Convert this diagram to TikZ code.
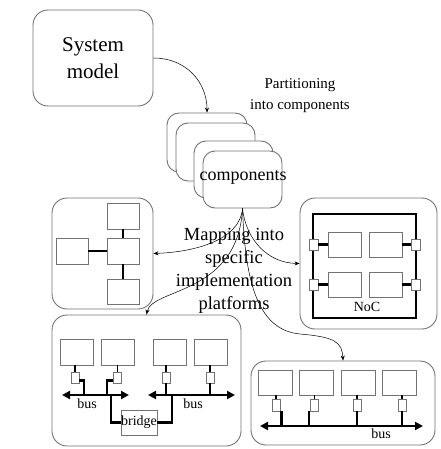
\documentclass[tikz,border=0pt]{standalone}
\usepackage{fontspec}
\setmainfont{Liberation Serif}
\usetikzlibrary{arrows.meta}

\tikzset{
  frame/.style={draw=black!55, line width=0.9pt, rounded corners=15pt, fill=white},
  part/.style={draw=black!55, line width=0.9pt, rounded corners=12pt, fill=white},
  pe/.style={draw=black!55, line width=0.8pt, fill=white, inner sep=0pt, minimum width=33pt, minimum height=26pt},
  wrapper/.style={draw=black!55, line width=0.7pt, fill=white, inner sep=0pt, minimum width=8pt, minimum height=11pt},
  wire/.style={line width=2.4pt},
  stub/.style={line width=1.4pt},
  bus/.style={line width=2.4pt, {Triangle[length=8pt,width=8pt]}-{Triangle[length=8pt,width=8pt]}},
  flow/.style={line width=0.5pt, -{Stealth[length=5pt,width=4pt]}},
  small/.style={font=\fontsize{14}{16}\selectfont, inner sep=0pt},
}

\begin{document}
\begin{tikzpicture}[x=1pt,y=-1pt]
  \useasboundingbox (0,0) rectangle (440,449);

  % system model and its components
  \node[frame, minimum width=120pt, minimum height=96pt, align=center,
        font=\fontsize{21}{27}\selectfont] (sys) at (93,58) {System\\model};
  \node[part, minimum width=80pt, minimum height=59pt] (c1) at (207,142.5) {};
  \node[part, minimum width=79pt, minimum height=58pt] (c2) at (215.5,152) {};
  \node[part, minimum width=79pt, minimum height=57pt] (c3) at (233.5,169.5) {};
  \node[part, minimum width=79pt, minimum height=57pt] (comp) at (242.5,179.5) {};
  \node[font=\fontsize{18}{20}\selectfont] (complabel) at (243,177) {components};
  \node[font=\tiny, text=black!40] (dots1) at (262,135) {...};
  \node[font=\tiny, text=black!40] (dots2) at (190,183) {...};
  \node[align=center, font=\fontsize{15}{21}\selectfont] (parting) at (300,96) {Partitioning\\into components};
  \node[align=center, font=\fontsize{18.5}{23}\selectfont] (mapping) at (234,271) {Mapping into\\specific\\implementation\\platforms};

  % hierarchical platform
  \node[frame, minimum width=101pt, minimum height=111pt] (hier) at (102.5,253.5) {};
  \node[pe, minimum width=32pt] (h1) at (123,216) {};
  \node[pe, minimum width=32pt] (h2) at (123,251) {};
  \node[pe, minimum width=32pt, minimum height=25pt] (h3) at (123,291.5) {};
  \node[pe, minimum width=32pt] (h4) at (72,251) {};
  \draw[wire] (h1) -- (h2);
  \draw[wire] (h2) -- (h3);
  \draw[wire] (h4) -- (h2);

  % network on chip
  \node[frame, minimum width=137pt, minimum height=131pt] (noc) at (368.5,263.5) {};
  \node[draw, wire, minimum width=103pt, minimum height=104pt] (ring) at (364.5,266) {};
  \node[pe, minimum height=25pt] (n1) at (344.5,244.5) {};
  \node[pe, minimum height=25pt] (n2) at (385.5,244.5) {};
  \node[pe, minimum height=25pt] (n3) at (344.5,284.5) {};
  \node[pe, minimum height=25pt] (n4) at (385.5,284.5) {};
  \node[wrapper, minimum width=9pt] (r1) at (313.5,244.5) {};
  \node[wrapper, minimum width=9pt] (r2) at (313.5,284.5) {};
  \node[wrapper, minimum width=9pt] (r3) at (415.5,244.5) {};
  \node[wrapper, minimum width=9pt] (r4) at (415.5,284.5) {};
  \draw[wire] (r1) -- (n1);
  \draw[wire] (r2) -- (n3);
  \draw[wire] (n2) -- (r3);
  \draw[wire] (n4) -- (r4);
  \node[small] (noclabel) at (367,307) {NoC};

  % two buses with a bridge
  \node[frame, minimum width=189pt, minimum height=131pt] (twobus) at (146.5,380.5) {};
  \node[pe] (a1) at (77,352) {};
  \node[pe] (a2) at (118,352) {};
  \node[pe] (a3) at (169.5,352) {};
  \node[pe] (a4) at (210.5,352) {};
  \node[wrapper] (w1) at (75,377.5) {};
  \node[wrapper] (w2) at (117.5,377.5) {};
  \node[wrapper] (w3) at (166,377.5) {};
  \node[wrapper] (w4) at (210,377.5) {};
  \draw[stub] (w1.north |- a1.south) -- (w1.north);
  \draw[stub] (w2.north |- a2.south) -- (w2.north);
  \draw[stub] (w3.north |- a3.south) -- (w3.north);
  \draw[stub] (w4.north |- a4.south) -- (w4.north);
  \coordinate (b1l) at (62,395);
  \coordinate (b1r) at (129,395);
  \coordinate (b2l) at (148,395);
  \coordinate (b2r) at (235,395);
  \draw[wire] ([yshift=-3pt]w1.east) -| (84,395);
  \draw[wire] ([yshift=-3pt]w2.west) -| (107,395);
  \draw[wire] (w3.south) -- (w3.south |- b2l);
  \draw[wire] (w4.south) -- (w4.south |- b2l);
  \node[pe, minimum width=36pt, minimum height=25pt, small] (bridge) at (139,422.5) {bridge};
  \draw[wire] (111,395) |- (bridge.west);
  \draw[wire] (bridge.east) -| (172,395);
  \draw[bus] (b1l) -- (b1r);
  \draw[bus] (b2l) -- (b2r);
  \node[small] (bus1) at (87,404) {bus};
  \node[small] (bus2) at (193,404) {bus};

  % single bus
  \node[frame, minimum width=184pt, minimum height=84pt] (onebus) at (343,403) {};
  \node[pe, minimum width=34pt, minimum height=25pt] (d1) at (275,382.5) {};
  \node[pe, minimum width=34pt, minimum height=25pt] (d2) at (316.5,382.5) {};
  \node[pe, minimum width=34pt, minimum height=25pt] (d3) at (358.5,382.5) {};
  \node[pe, minimum width=34pt, minimum height=25pt] (d4) at (399.5,382.5) {};
  \node[wrapper, minimum height=12pt] (v1) at (276,405) {};
  \node[wrapper, minimum height=12pt] (v2) at (314.5,405) {};
  \node[wrapper, minimum height=12pt] (v3) at (357,405) {};
  \node[wrapper, minimum height=12pt] (v4) at (402,405) {};
  \draw[stub] (v1.north |- d1.south) -- (v1.north);
  \draw[stub] (v2.north |- d2.south) -- (v2.north);
  \draw[stub] (v3.north |- d3.south) -- (v3.north);
  \draw[stub] (v4.north |- d4.south) -- (v4.north);
  \coordinate (b3l) at (260,426);
  \coordinate (b3r) at (423,426);
  \draw[wire] ([xshift=1pt]v1.south east) -- ([xshift=1pt]v1.south east |- b3l);
  \draw[wire] ([xshift=-1pt]v2.south west) -- ([xshift=-1pt]v2.south west |- b3l);
  \draw[wire] (v3.south) -- (v3.south |- b3l);
  \draw[wire] (v4.south) -- (v4.south |- b3l);
  \draw[bus] (b3l) -- (b3r);
  \node[small] (bus3) at (381,434) {bus};

  % flows
  \draw[flow] (sys.east) .. controls (186,58) and (207,82) .. (c1.north);
  \draw[flow] (comp.south) .. controls (240,240) and (195,252) .. (hier.east);
  \draw[flow] (comp.south) .. controls (246,240) and (268,263) .. (noc.west);
  \draw[flow] (comp.south) .. controls (238,295) and (152,288) .. (twobus.north);
  \draw[flow] (comp.south) .. controls (245,275) and (255,330) .. (300,334)
    .. controls (335,337) and (342,342) .. (onebus.north);
\end{tikzpicture}
\end{document}
